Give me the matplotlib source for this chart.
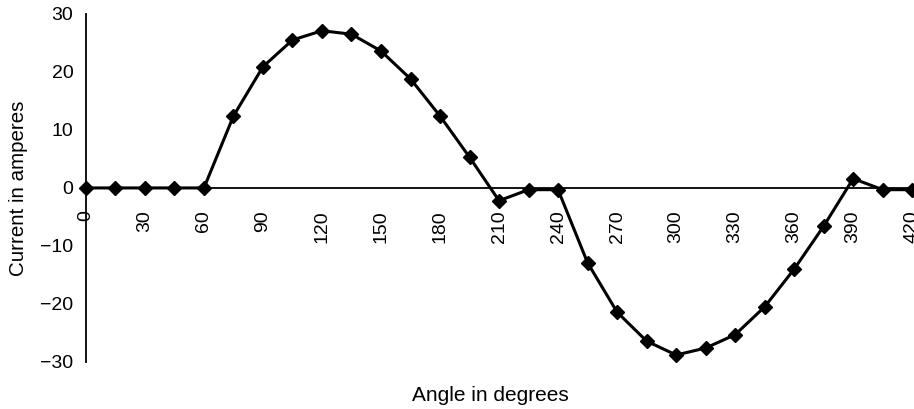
import matplotlib
matplotlib.use('Agg')
import matplotlib.pyplot as plt

plt.rcParams['font.family'] = ['Liberation Sans', 'DejaVu Sans']

# current sampled every 15 degrees
angle = [0, 15, 30, 45, 60, 75, 90, 105, 120, 135, 150, 165, 180, 195, 210,
         225, 240, 255, 270, 285, 300, 315, 330, 345, 360, 375, 390, 405, 420]
current = [0, 0, 0, 0, 0, 12.4, 20.9, 25.5, 27.1, 26.5, 23.6, 18.8, 12.4, 5.3,
           -2.2, -0.3, -0.3, -12.9, -21.4, -26.4, -28.8, -27.6, -25.3, -20.5,
           -14.0, -6.6, 1.6, -0.3, -0.3]

x_ticks = list(range(0, 421, 30))
y_ticks = [-30, -20, -10, 0, 10, 20, 30]

fig = plt.figure(figsize=(9.14, 4.09), dpi=100)
ax = fig.add_axes([0.094, 0.115, 0.904, 0.851])

ax.plot(angle, current, color='black', linewidth=2.2, marker='D',
        markersize=7, clip_on=False, zorder=3)

# horizontal axis runs through zero, vertical axis on the left
ax.spines['bottom'].set_position(('data', 0))
ax.spines['top'].set_visible(False)
ax.spines['right'].set_visible(False)
for s in ('bottom', 'left'):
    ax.spines[s].set_linewidth(1.3)
    ax.spines[s].set_color('black')

ax.set_xlim(0, 420)
ax.set_ylim(-30, 30)
ax.set_xticks(x_ticks)
ax.set_yticks(y_ticks)

ax.tick_params(axis='x', length=0, pad=16, labelsize=14, labelrotation=90)
ax.tick_params(axis='y', length=0, pad=9, labelsize=14)

ax.set_ylabel('Current in amperes', fontsize=14.8, labelpad=9)
fig.text(0.537, 0.034, 'Angle in degrees', ha='center', va='center',
         fontsize=15)

fig.savefig('out.png', dpi=100, facecolor='white')
